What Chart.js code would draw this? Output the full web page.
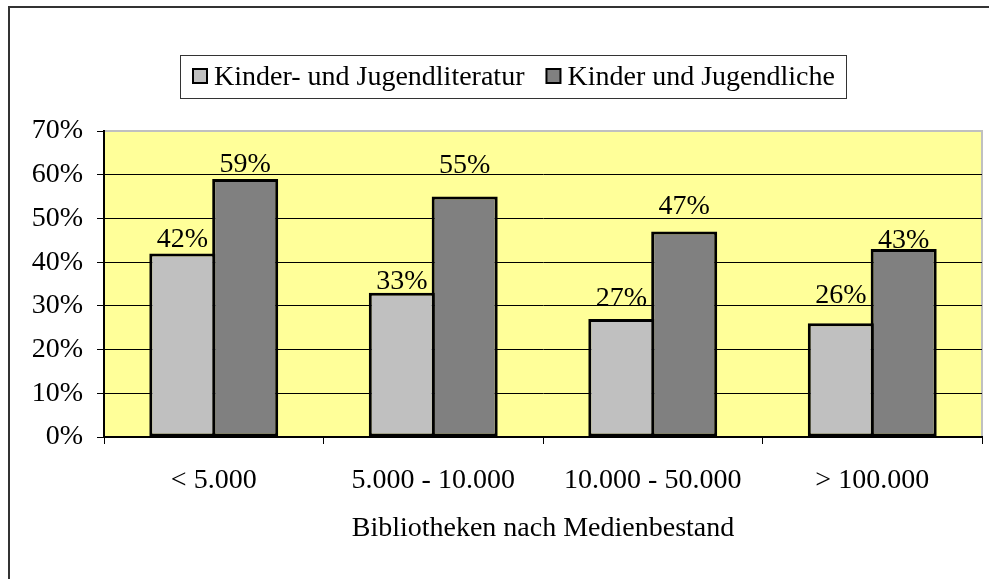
<!DOCTYPE html>
<html>
<head>
<meta charset="utf-8">
<script src="https://cdn.jsdelivr.net/npm/chart.js@4"></script>
<style>
  html, body { margin: 0; padding: 0; background: #fff; }
  #wrap { width: 989px; height: 579px; }
</style>
</head>
<body>
<div id="wrap"><canvas id="chart" width="989" height="579"></canvas></div>
<script>
// values
const categories = ['< 5.000', '5.000 - 10.000', '10.000 - 50.000', '> 100.000'];
const seriesNames = ['Kinder- und Jugendliteratur', 'Kinder und Jugendliche'];
const literatur = [42, 33, 27, 26];
const jugendliche = [59, 55, 47, 43];
const yTicks = [0, 10, 20, 30, 40, 50, 60, 70];

// how far each value label sits above its bar (Excel placed them unevenly)
const labelLift = [[15, 13, 22, 29], [16, 33, 27, 10]];

const FONT_FAMILY = '"Liberation Serif", "Times New Roman", serif';
const FONT = '28px ' + FONT_FAMILY;
const fills = ['#c0c0c0', '#808080'];

const frame = {
    id: 'frame',
    beforeDraw(chart) {
        const ctx = chart.ctx, a = chart.chartArea;
        ctx.save();
        // outer chart border (only top/left are visible in the crop)
        ctx.fillStyle = '#333';
        ctx.fillRect(8, 6, 981, 2);
        ctx.fillRect(8, 6, 2, 573);
        // plot area
        ctx.fillStyle = '#ffff99';
        ctx.fillRect(a.left, a.top, a.right - a.left, a.bottom - a.top);
        ctx.strokeStyle = '#c0c0c0';
        ctx.lineWidth = 2;
        ctx.beginPath();
        ctx.moveTo(a.left, a.top);
        ctx.lineTo(a.right, a.top);
        ctx.lineTo(a.right, a.bottom);
        ctx.stroke();
        ctx.restore();
    },
    afterDatasetsDraw(chart) {
        const ctx = chart.ctx;
        ctx.save();
        ctx.font = FONT;
        ctx.fillStyle = '#000';
        ctx.textAlign = 'center';
        ctx.textBaseline = 'alphabetic';
        chart.data.datasets.forEach((ds, i) => {
            chart.getDatasetMeta(i).data.forEach((bar, j) => {
                ctx.fillText(ds.data[j] + '%', bar.x, bar.y - labelLift[i][j] + 9);
            });
        });
        ctx.restore();
    },
    afterDraw(chart) {
        // boxed legend, Excel style
        const ctx = chart.ctx;
        ctx.save();
        ctx.font = FONT;
        const widths = seriesNames.map(n => ctx.measureText(n).width);
        const sw = 14, gapIn = 7, gapOut = 22, padL = 13, padR = 11;
        const total = padL + sw + gapIn + widths[0] + gapOut + sw + gapIn + widths[1] + padR;
        let x = Math.round(513 - total / 2);
        ctx.strokeStyle = '#333';
        ctx.lineWidth = 1;
        ctx.strokeRect(x + 0.5, 55.5, Math.round(total), 43);
        x += padL;
        seriesNames.forEach((name, i) => {
            ctx.fillStyle = fills[i];
            ctx.fillRect(x, 69, sw, sw);
            ctx.strokeStyle = '#000';
            ctx.lineWidth = 2;
            ctx.strokeRect(x, 69, sw, sw);
            ctx.fillStyle = '#000';
            ctx.textBaseline = 'alphabetic';
            ctx.fillText(name, x + sw + gapIn, 85);
            x += sw + gapIn + widths[i] + gapOut;
        });
        ctx.restore();
    }
};

Chart.defaults.font.family = FONT_FAMILY;
Chart.defaults.font.size = 28;
Chart.defaults.color = '#000';

new Chart(document.getElementById('chart'), {
    type: 'bar',
    data: {
        labels: categories,
        datasets: [{
            label: seriesNames[0],
            data: literatur,
            backgroundColor: fills[0],
            borderColor: '#000',
            borderWidth: 3,
            borderSkipped: false
        }, {
            label: seriesNames[1],
            data: jugendliche,
            backgroundColor: fills[1],
            borderColor: '#000',
            borderWidth: 3,
            borderSkipped: false
        }]
    },
    options: {
        responsive: false,
        animation: false,
        layout: { padding: { top: 131, right: 7, bottom: 0, left: 0 } },
        plugins: {
            legend: { display: false },
            tooltip: { enabled: false }
        },
        datasets: {
            // bars of a group share one border line, like Excel draws them
            bar: { categoryPercentage: 0.573, barPercentage: 1.05 }
        },
        scales: {
            x: {
                afterFit: s => { s.height = 142; },
                grid: {
                    offset: true,
                    drawOnChartArea: false,
                    drawTicks: true,
                    tickLength: 7,
                    color: '#000'
                },
                border: { color: '#000', width: 2 },
                ticks: { padding: 20, maxRotation: 0 },
                title: {
                    display: true,
                    text: 'Bibliotheken nach Medienbestand',
                    padding: { top: 0, bottom: 34 }
                }
            },
            y: {
                min: 0,
                max: 70,
                afterFit: s => { s.width = 104; },
                afterBuildTicks: s => { s.ticks = yTicks.map(v => ({ value: v })); },
                grid: {
                    color: c => c.tick && c.tick.value === 70 ? '#c0c0c0' : '#000',
                    tickColor: '#000',
                    tickLength: 7,
                    lineWidth: 1
                },
                border: { color: '#000', width: 2 },
                ticks: {
                    padding: 14,
                    callback: v => v + '%'
                }
            }
        }
    },
    plugins: [frame]
});
</script>
</body>
</html>
